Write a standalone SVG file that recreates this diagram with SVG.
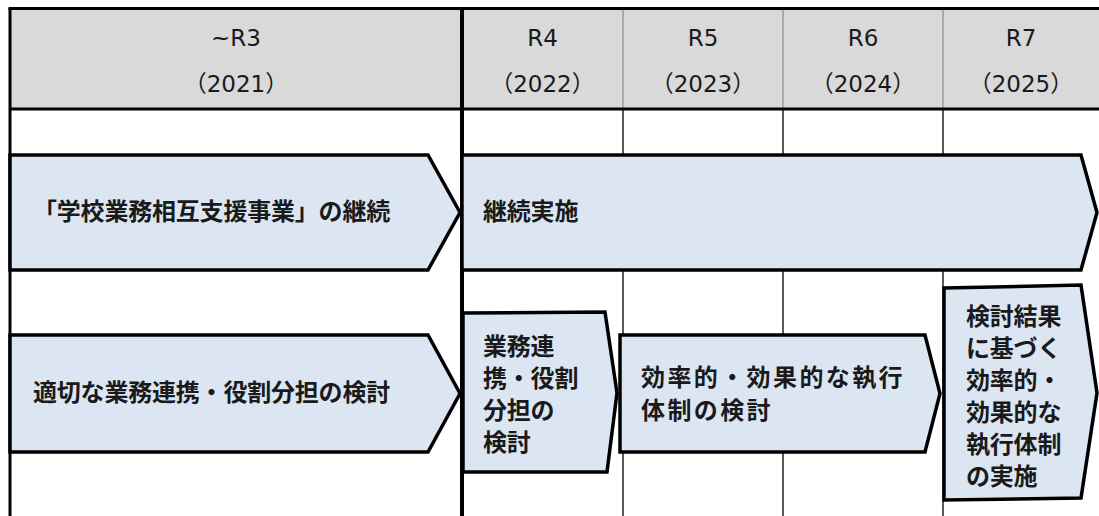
<svg xmlns="http://www.w3.org/2000/svg" width="1099" height="516" viewBox="0 0 1099 516">
<style>
.hdr{font-family:"DejaVu Sans","Noto Sans CJK JP",sans-serif;font-size:23px;fill:#1a1a1a;text-anchor:middle}
.lbl{font-family:"Noto Sans CJK JP",sans-serif;font-weight:bold;font-size:24px;letter-spacing:-0.2px;fill:#1a1a1a}
.big{font-size:24px;letter-spacing:2.4px}
.shape{fill:#dce6f2;stroke:#000;stroke-width:3.5;stroke-linejoin:miter}
.thin{stroke:#000;stroke-width:1.3}
.thinh{stroke:#8c8c8c;stroke-width:1.2}
.thick{stroke:#000;stroke-width:4}
.mid{stroke:#000;stroke-width:3}
</style>
<rect x="0" y="0" width="1099" height="516" fill="#fff"/>
<g id="table">
  <rect x="10" y="9" width="1089" height="100" fill="#d9d9d9"/>
  <line class="thinh" x1="623" y1="10" x2="623" y2="108"/>
  <line class="thinh" x1="783" y1="10" x2="783" y2="108"/>
  <line class="thinh" x1="943" y1="10" x2="943" y2="108"/>
  <line class="thin" x1="623" y1="109" x2="623" y2="516"/>
  <line class="thin" x1="783" y1="109" x2="783" y2="516"/>
  <line class="thin" x1="943" y1="109" x2="943" y2="516"/>
  <line class="mid" x1="10" y1="8" x2="10" y2="516"/>
  <line class="mid" x1="8.5" y1="8.5" x2="1099" y2="8.5"/>
  <line class="mid" x1="10" y1="109" x2="1099" y2="109"/>
  <line class="thick" x1="462" y1="7" x2="462" y2="516"/>
  <text class="hdr" x="236" y="46">~R3</text>
  <text class="hdr" x="236" y="92">（2021）</text>
  <text class="hdr" x="542.5" y="46">R4</text>
  <text class="hdr" x="542.5" y="92">（2022）</text>
  <text class="hdr" x="703" y="46">R5</text>
  <text class="hdr" x="703" y="92">（2023）</text>
  <text class="hdr" x="863" y="46">R6</text>
  <text class="hdr" x="863" y="92">（2024）</text>
  <text class="hdr" x="1021" y="46">R7</text>
  <text class="hdr" x="1021" y="92">（2025）</text>
</g>
<g id="node-continue-r3">
  <polygon class="shape" points="10,155 428,155 460,212.5 428,270 10,270"/>
  <text class="lbl" x="33" y="220">「学校業務相互支援事業」の継続</text>
</g>
<g id="node-continue-r4">
  <polygon class="shape" points="462,155 1081,155 1097,212.5 1081,270 462,270"/>
  <text class="lbl" x="483" y="220">継続実施</text>
</g>
<g id="node-review-r3">
  <polygon class="shape" points="10,335 428,335 460,393.5 428,452 10,452"/>
  <text class="lbl" x="33" y="401">適切な業務連携・役割分担の検討</text>
</g>
<g id="node-review-r4">
  <polygon class="shape" points="463,313 605,312 617,393 607,472 463,472"/>
  <text class="lbl" x="483" y="355">業務連</text>
  <text class="lbl" x="483" y="387">携・役割</text>
  <text class="lbl" x="483" y="419">分担の</text>
  <text class="lbl" x="483" y="451">検討</text>
</g>
<g id="node-system-r5">
  <polygon class="shape" points="620,335 925,335 940,393.5 925,452 620,452"/>
  <text class="lbl big" x="641" y="386">効率的・効果的な執行</text>
  <text class="lbl big" x="641" y="419">体制の検討</text>
</g>
<g id="node-system-r7">
  <polygon class="shape" points="944,288 1081,285 1097,393 1081,498 944,500"/>
  <text class="lbl" x="966" y="325">検討結果</text>
  <text class="lbl" x="966" y="357">に基づく</text>
  <text class="lbl" x="966" y="389">効率的・</text>
  <text class="lbl" x="966" y="421">効果的な</text>
  <text class="lbl" x="966" y="453">執行体制</text>
  <text class="lbl" x="966" y="485">の実施</text>
</g>
<g id="connectors"></g>
</svg>
